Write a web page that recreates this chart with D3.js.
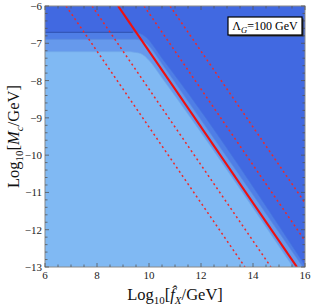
<!DOCTYPE html>
<html><head><meta charset="utf-8">
<script src="https://cdn.jsdelivr.net/npm/d3@7"></script>
<style>body{margin:0;background:#fff}svg{display:block}text{font-family:"Liberation Serif","Times New Roman",serif}</style>
</head><body><svg id="c" width="312" height="307"></svg>
<script>
// ---- data ----
const xDomain = [6, 16];
const yDomain = [-13, -6];
const xTicks = [6, 8, 10, 12, 14, 16];
const yTicks = [-6, -7, -8, -9, -10, -11, -12, -13];
// region boundaries (upper edge of each shaded region)
const band2X = [6, 9.38, 9.7, 9.95, 10.2, 10.5, 10.88, 16.04];
const band2Y = [-6.705, -6.705, -6.75, -6.88, -7.1, -7.4, -7.75, -13];
const band3X = [6, 9.46, 9.8, 10.1, 10.4, 10.75, 15.92];
const band3Y = [-6.893, -6.893, -6.95, -7.15, -7.45, -7.8, -13];
const lightX = [6, 9.15, 9.65, 10.04, 10.45, 15.54];
const lightY = [-7.225, -7.225, -7.27, -7.49, -7.88, -13];
// red lines: x at y=-6 and at y=-13
const lineXTop = [6.81, 7.81, 8.81, 9.81, 10.81];
const lineXBot = [13.69, 14.69, 15.69, 16.69, 17.69];
const lineSolid = [false, false, true, false, false];
const legendText = "100 GeV";

const svg = d3.select("#c");
const L = 45, R = 305, T = 6, B = 267;
const x = d3.scaleLinear(xDomain, [L, R]);
const y = d3.scaleLinear(yDomain, [B, T]);

svg.append("clipPath").attr("id", "clip").append("rect")
  .attr("x", L).attr("y", T).attr("width", R - L).attr("height", B - T);
const g = svg.append("g").attr("clip-path", "url(#clip)");

g.append("rect").attr("x", L).attr("y", T).attr("width", R - L).attr("height", B - T).attr("fill", "#4169e1");

function region(xs, ys, fill, stroke, sw) {
  const pts = xs.map((v, i) => [v, ys[i]]);
  const area = d3.area().x(d => x(d[0])).y0(y(-13) + 5).y1(d => y(d[1])).curve(d3.curveMonotoneX);
  g.append("path").attr("d", area(pts)).attr("fill", fill);
  const line = d3.line().x(d => x(d[0])).y(d => y(d[1])).curve(d3.curveMonotoneX);
  g.append("path").attr("d", line(pts)).attr("fill", "none").attr("stroke", stroke).attr("stroke-width", sw);
}
region(band2X, band2Y, "#4f7ee6", "#4572de", 0.7);
// darker contour along the flat top of band 2
g.append("line").attr("x1", x(band2X[0])).attr("x2", x(band2X[1]))
  .attr("y1", y(band2Y[0])).attr("y2", y(band2Y[1]))
  .attr("stroke", "#2f4fae").attr("stroke-width", 1);
region(band3X, band3Y, "#6699ec", "#5a8ade", 0.7);
region(lightX, lightY, "#80b9f3", "#72aaea", 0.7);

lineXTop.forEach((xt, i) => {
  const l = g.append("line")
    .attr("x1", x(xt)).attr("y1", y(-6)).attr("x2", x(lineXBot[i])).attr("y2", y(-13))
    .attr("stroke", lineSolid[i] ? "#ee1010" : "#ec2a2a");
  if (lineSolid[i]) l.attr("stroke-width", 2.2);
  else l.attr("stroke-width", 1.5).attr("stroke-dasharray", "2,3");
});

// frame
svg.append("rect").attr("x", L).attr("y", T).attr("width", R - L).attr("height", B - T)
  .attr("fill", "none").attr("stroke", "#8a8a8a").attr("stroke-width", 1);

// ticks
const tk = svg.append("g").attr("stroke", "#555").attr("stroke-width", 0.8);
const xMinor = d3.range(6, 16.001, 0.5);
const yMinor = d3.range(-13, -5.999, 0.2);
xMinor.forEach(v => {
  const major = xTicks.some(t => Math.abs(t - v) < 1e-6);
  const len = major ? 4 : 2.5;
  tk.append("line").attr("x1", x(v)).attr("x2", x(v)).attr("y1", B).attr("y2", B - len);
  tk.append("line").attr("x1", x(v)).attr("x2", x(v)).attr("y1", T).attr("y2", T + len);
});
yMinor.forEach(v => {
  const major = yTicks.some(t => Math.abs(t - v) < 1e-6);
  const len = major ? 4 : 2.5;
  tk.append("line").attr("y1", y(v)).attr("y2", y(v)).attr("x1", L).attr("x2", L + len);
  tk.append("line").attr("y1", y(v)).attr("y2", y(v)).attr("x1", R).attr("x2", R - len);
});

// tick labels
svg.append("g").selectAll("text").data(xTicks).join("text")
  .attr("x", d => x(d)).attr("y", B + 12).attr("text-anchor", "middle")
  .attr("font-size", 11).attr("fill", "#222").text(d => d);
svg.append("g").selectAll("text").data(yTicks).join("text")
  .attr("x", L - 3).attr("y", d => y(d) + 4).attr("text-anchor", "end")
  .attr("font-size", 11).attr("fill", "#222").text(d => "\u2212" + Math.abs(d));

// axis labels
const xl = svg.append("text").attr("x", (L + R) / 2).attr("y", 300).attr("text-anchor", "middle")
  .attr("font-size", 16.5).attr("fill", "#111");
xl.append("tspan").text("Log");
xl.append("tspan").attr("font-size", 11).attr("dy", 4).text("10");
xl.append("tspan").attr("dy", -4).text("[");
xl.append("tspan").attr("font-style", "italic").text("f\u0302");
xl.append("tspan").attr("font-size", 11).attr("font-style", "italic").attr("dy", 4).text("X");
xl.append("tspan").attr("dy", -4).text("/GeV]");

const yl = svg.append("text").attr("transform", `translate(19,${(T + B) / 2}) rotate(-90)`)
  .attr("text-anchor", "middle").attr("font-size", 16.5).attr("fill", "#111");
yl.append("tspan").text("Log");
yl.append("tspan").attr("font-size", 11).attr("dy", 4).text("10");
yl.append("tspan").attr("dy", -4).text("[");
yl.append("tspan").attr("font-style", "italic").text("M");
yl.append("tspan").attr("font-size", 11).attr("font-style", "italic").attr("dy", 4).text("c");
yl.append("tspan").attr("dy", -4).text("/GeV]");

// legend box
svg.append("rect").attr("x", 229.5).attr("y", 18.5).attr("width", 74).attr("height", 18).attr("fill", "#333");
svg.append("rect").attr("x", 228).attr("y", 17).attr("width", 74).attr("height", 18)
  .attr("fill", "#fff").attr("stroke", "#000").attr("stroke-width", 1.2);
const lt = svg.append("text").attr("x", 265).attr("y", 30).attr("text-anchor", "middle")
  .attr("font-size", 12).attr("fill", "#000");
lt.append("tspan").text("\u039B");
lt.append("tspan").attr("font-size", 8.5).attr("font-style", "italic").attr("dy", 2.5).text("G");
lt.append("tspan").attr("dy", -2.5).text("=" + legendText);
</script></body></html>
